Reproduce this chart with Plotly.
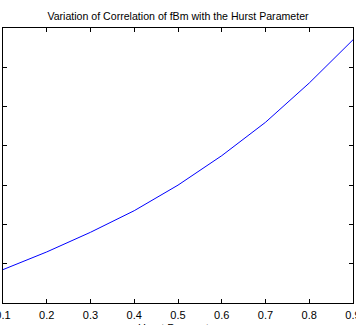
import plotly.graph_objects as go

hurst = [0.1, 0.2, 0.3, 0.4, 0.5, 0.6, 0.7, 0.8, 0.9]
correlation = [-0.43, -0.34, -0.24, -0.13, 0.0, 0.15, 0.32, 0.52, 0.74]
x_ticks = [0.1, 0.2, 0.3, 0.4, 0.5, 0.6, 0.7, 0.8, 0.9]
y_ticks = [-0.6, -0.4, -0.2, 0, 0.2, 0.4, 0.6, 0.8]

fig = go.Figure()
fig.add_trace(go.Scatter(x=hurst, y=correlation, mode="lines",
                         line=dict(color="#0000ff", width=1), showlegend=False))

font = "Liberation Sans, Arial, Helvetica, sans-serif"
plot_h = 325 - 28 - 22
fig.update_layout(
    width=356, height=325,
    margin=dict(l=3, r=3, t=28, b=22),
    paper_bgcolor="white", plot_bgcolor="white",
    font=dict(family=font, size=11, color="#000000"),
    title=dict(text="Variation of Correlation of fBm with the Hurst Parameter",
               x=0.5, xanchor="center", xref="paper",
               y=1 - 16 / 325, yanchor="middle", yref="container",
               font=dict(size=10.6, color="#000000", family=font)),
    annotations=[dict(text="Hurst Parameter", xref="paper", yref="paper",
                      x=0.5, y=-17 / plot_h, xanchor="center", yanchor="top",
                      showarrow=False, font=dict(size=11, color="#000000", family=font))],
)
fig.update_xaxes(range=[0.1, 0.9], tickvals=x_ticks, ticktext=[f"{v:.1f}" for v in x_ticks],
                 ticks="inside", ticklen=4, tickcolor="black", showline=True, linecolor="black",
                 linewidth=1, mirror="ticks", showgrid=False, zeroline=False,
                 ticklabeloverflow="allow", ticklabelstandoff=2,
                 automargin=False)
fig.update_yaxes(range=[-0.6, 0.8], tickvals=y_ticks, showticklabels=False,
                 ticks="inside", ticklen=4, tickcolor="black", showline=True, linecolor="black",
                 linewidth=1, mirror="ticks", showgrid=False, zeroline=False, automargin=False)

fig.write_html("out.html")
